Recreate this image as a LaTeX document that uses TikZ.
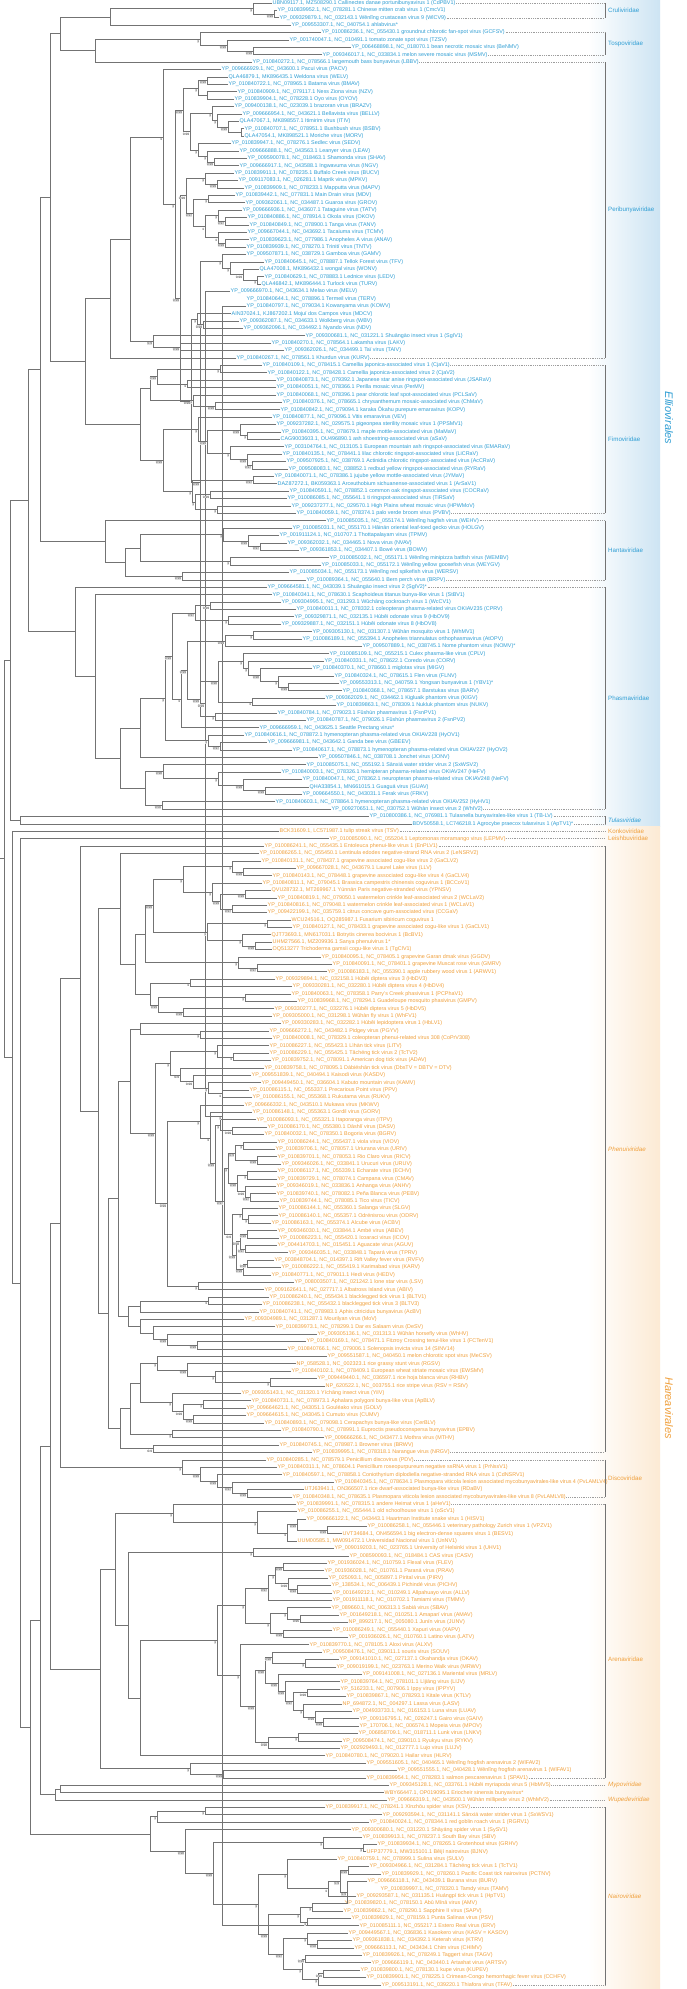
\documentclass[tikz,border=0pt]{standalone}
\usepackage{fontspec}
\setmainfont{Liberation Sans}
\usetikzlibrary{calc}
\definecolor{blu}{RGB}{47,158,212}
\definecolor{ora}{RGB}{240,160,60}
\definecolor{bgb}{RGB}{205,228,243}
\definecolor{bgo}{RGB}{252,234,212}
\definecolor{brc}{RGB}{115,115,115}
\newcounter{leafk}
\def\lc{blu}
\tikzset{
  br/.style={draw=brc,line width=0.6pt},
  lab/.style={anchor=west,inner sep=0.5pt,font=\fontsize{5.4}{6}\selectfont},
  dotl/.style={draw=brc!70,line width=0.4pt,dash pattern=on 0.6pt off 1.2pt},
  bkl/.style={draw=brc,line width=0.7pt},
  fam/.style={anchor=west,inner sep=0pt,font=\fontsize{6.2}{7}\selectfont},
  famit/.style={fam,font=\fontsize{6.2}{7}\selectfont\itshape},
  ord/.style={inner sep=0pt,rotate=-90,font=\fontsize{11}{12}\selectfont\itshape},
  sup/.style={anchor=north east,inner sep=0.3pt,fill=black!12,text=black!65,font=\fontsize{3.2}{3.5}\selectfont,xshift=-0.4pt,yshift=-0.6pt}
}
\newcommand\Lf[3]{%
  \stepcounter{leafk}%
  \pgfmathsetmacro\ly{3+(\theleafk-1)*7.395}%
  \coordinate (#1) at (#2,\ly);
  \node[lab,text=\lc] (t#1) at (#1) {#3};
}
\newcommand\N[3]{%
  \foreach \cc [count=\ci] in {#3}{\ifnum\ci=1 \global\let\nfirst\cc\fi \global\let\nlast\cc}%
  \path let \p1=(\nfirst), \p2=(\nlast) in ({#2pt},{(\y1+\y2)/2}) coordinate (#1);
  \foreach \cc in {#3}{\draw[br] (\cc) -| (#1);}
}
\newcommand\Dt[1]{\draw[dotl] (t#1.east) -- (t#1.east -| bx);}
\begin{document}
\begin{tikzpicture}[x=1pt,y=-1pt]
\useasboundingbox (0,0) rectangle (687,1989);
\fill[white] (0,0) rectangle (687,1989);
\shade[left color=white,right color=bgb] (588,0) rectangle (660,826);
\shade[left color=white,right color=bgo] (588,826) rectangle (660,1989);
\coordinate (bx) at (605,0);
% ---------------- leaves: Elliovirales
\Lf{cdpbv}{272}{UBN09117.1, MZ508290.1 Callinectes danae portunibunyavirus 1 (CdPBV1)}
\Lf{cmcv}{277}{YP\_010839952.1, NC\_078281.1 Chinese mitten crab virus 1 (CmcV1)}
\Lf{wlcv}{279}{YP\_009329879.1, NC\_032143.1 Wēnlǐng crustacean virus 9 (WlCV9)}
\Lf{ahl}{291}{YP\_009553307.1, NC\_040754.1 ahlabvirus*}
\Lf{gcfsv}{321}{YP\_010086236.1, NC\_055430.1 groundnut chlorotic fan-spot virus (GCFSV)}
\Lf{tzsv}{289}{YP\_001740047.1, NC\_010491.1 tomato zonate spot virus (TZSV)}
\Lf{benmv}{351}{YP\_006468898.1, NC\_018070.1 bean necrotic mosaic virus (BeNMV)}
\Lf{msmv}{322}{YP\_009346017.1, NC\_033834.1 melon severe mosaic virus (MSMV)}
\Lf{lbbv}{252}{YP\_010840272.1, NC\_078566.1 largemouth bass bunyavirus (LBBV)}
\Lf{pacv}{221}{YP\_009666929.1, NC\_043600.1 Pacui virus (PACV)}
\Lf{welv}{228}{QLA46879.1, MK896435.1 Weldona virus (WELV)}
\Lf{bmav}{228}{YP\_010840722.1, NC\_078965.1 Batama virus (BMAV)}
\Lf{nzv}{237}{YP\_010840909.1, NC\_079117.1 Ness Ziona virus (NZV)}
\Lf{oyov}{234}{YP\_010839904.1, NC\_078228.1 Oyo virus (OYOV)}
\Lf{brazv}{234}{YP\_009400138.1, NC\_023039.1 brazoran virus (BRAZV)}
\Lf{bellv}{242}{YP\_009666954.1, NC\_043621.1 Bellavista virus (BELLV)}
\Lf{itiv}{239}{QLA47067.1, MK898557.1 Itimirim virus (ITIV)}
\Lf{bsbv}{244}{YP\_010840707.1, NC\_078951.1 Bushbush virus (BSBV)}
\Lf{morv}{244}{QLA47054.1, MK898521.1 Moriche virus (MORV)}
\Lf{sedv}{231}{YP\_010839947.1, NC\_078276.1 Sedlec virus (SEDV)}
\Lf{leav}{239}{YP\_009666888.1, NC\_043563.1 Leanyer virus (LEAV)}
\Lf{shav}{247}{YP\_009590078.1, NC\_018463.1 Shamonda virus (SHAV)}
\Lf{ingv}{239}{YP\_009666917.1, NC\_043588.1 Ingwavuma virus (INGV)}
\Lf{bucv}{234}{YP\_010839911.1, NC\_078235.1 Buffalo Creek virus (BUCV)}
\Lf{mpkv}{238}{YP\_009117083.1, NC\_026281.1 Maprik virus (MPKV)}
\Lf{mapv}{244}{YP\_010839909.1, NC\_078233.1 Mapputta virus (MAPV)}
\Lf{mdv}{235}{YP\_010839442.1, NC\_077831.1 Main Drain virus (MDV)}
\Lf{grov}{245}{YP\_009362061.1, NC\_034487.1 Guaroa virus (GROV)}
\Lf{tatv}{242}{YP\_009666936.1, NC\_043607.1 Tataguine virus (TATV)}
\Lf{okov}{247}{YP\_010840886.1, NC\_078914.1 Okola virus (OKOV)}
\Lf{tanv}{249}{YP\_010840849.1, NC\_078900.1 Tanga virus (TANV)}
\Lf{tcmv}{247}{YP\_009667044.1, NC\_043692.1 Tacaiuma virus (TCMV)}
\Lf{anav}{249}{YP\_010839623.1, NC\_077986.1 Anopheles A virus (ANAV)}
\Lf{tntv}{246}{YP\_010839939.1, NC\_078270.1 Trinití virus (TNTV)}
\Lf{gamv}{246}{YP\_009507871.1, NC\_038729.1 Gamboa virus (GAMV)}
\Lf{tfv}{264}{YP\_010840645.1, NC\_078887.1 Tellok Forest virus (TFV)}
\Lf{wonv}{259}{QLA47008.1, MK896432.1 wongal virus (WONV)}
\Lf{ledv}{264}{YP\_010840629.1, NC\_078883.1 Lednice virus (LEDV)}
\Lf{turv}{261}{QLA46842.1, MK896444.1 Turlock virus (TURV)}
\Lf{melv}{230}{YP\_009666970.1, NC\_043634.1 Melao virus (MELV)}
\Lf{terv}{246}{YP\_010840644.1, NC\_078896.1 Termeil virus (TERV)}
\Lf{kowv}{246}{YP\_010840797.1, NC\_079034.1 Kowanyama virus (KOWV)}
\Lf{mdcv}{231}{AIN37024.1, KJ867202.1 Mojuí dos Campos virus (MDCV)}
\Lf{wbv}{239}{YP\_009362087.1, NC\_034633.1 Wolkberg virus (WBV)}
\Lf{ndv}{243}{YP\_009362096.1, NC\_034492.1 Nyando virus (NDV)}
\Lf{sgiv}{305}{YP\_009300681.1, NC\_031221.1 Shuāngào insect virus 1 (SgIV1)}
\Lf{lakv}{271}{YP\_010840270.1, NC\_078564.1 Lakamha virus (LAKV)}
\Lf{taiv}{284}{YP\_009362026.1, NC\_034499.1 Taï virus (TAIV)}
\Lf{kurv}{236}{YP\_010840267.1, NC\_078561.1 Khurdun virus (KURV)}
\Lf{cjav1}{262}{YP\_010840109.1, NC\_078415.1 Camellia japonica-associated virus 1 (CjaV1)}
\Lf{cjav2}{267}{YP\_010840122.1, NC\_078428.1 Camellia japonica-associated virus 2 (CjaV2)}
\Lf{jsarav}{276}{YP\_010840873.1, NC\_079392.1 Japanese star anise ringspot-associated virus (JSARaV)}
\Lf{permv}{276}{YP\_010840051.1, NC\_078366.1 Perilla mosaic virus (PerMV)}
\Lf{pclsav}{276}{YP\_010840068.1, NC\_078396.1 pear chlorotic leaf spot-associated virus (PCLSaV)}
\Lf{chmav}{282}{YP\_010840376.1, NC\_078665.1 chrysanthemum mosaic-associated virus (ChMaV)}
\Lf{kopv}{280}{YP\_010840842.1, NC\_079094.1 karaka Ōkahu purepure emaravirus (KOPV)}
\Lf{vev}{272}{YP\_010840877.1, NC\_079096.1 Vitis emaravirus (VEV)}
\Lf{ppsmv}{276}{YP\_009237282.1, NC\_029575.1 pigeonpea sterility mosaic virus 1 (PPSMV1)}
\Lf{mamav}{281}{YP\_010840395.1, NC\_078679.1 maple mottle-associated virus (MaMaV)}
\Lf{asav}{280}{CAG9003603.1, OU496890.1 ash shoestring-associated virus (aSaV)}
\Lf{emarav}{284}{YP\_003104764.1, NC\_013105.1 European mountain ash ringspot-associated virus (EMARaV)}
\Lf{licrav}{282}{YP\_010840135.1, NC\_078441.1 lilac chlorotic ringspot-associated virus (LiCRaV)}
\Lf{accrav}{286}{YP\_009507925.1, NC\_038769.1 Actinidia chlorotic ringspot-associated virus (AcCRaV)}
\Lf{ryrav}{288}{YP\_009508083.1, NC\_038852.1 redbud yellow ringspot-associated virus (RYRaV)}
\Lf{jymav}{274}{YP\_010840071.1, NC\_078386.1 jujube yellow mottle-associated virus (JYMaV)}
\Lf{arsav}{277}{DAZ87272.1, BK059363.1 Arceuthobium sichuanense-associated virus 1 (ArSaV1)}
\Lf{cocrav}{289}{YP\_010840591.1, NC\_078852.1 common oak ringspot-associated virus (COCRaV)}
\Lf{tirsav}{287}{YP\_010086085.1, NC\_055641.1 ti ringspot-associated virus (TiRSaV)}
\Lf{hpwmov}{291}{YP\_009237277.1, NC\_029570.1 High Plains wheat mosaic virus (HPWMoV)}
\Lf{pvbv}{296}{YP\_010840059.1, NC\_078374.1 palo verde broom virus (PVBV)}
\Lf{wehv}{326}{YP\_010085035.1, NC\_055174.1 Wēnlǐng hagfish virus (WEHV)}
\Lf{holgv}{292}{YP\_010085031.1, NC\_055170.1 Hǎinán oriental leaf-toed gecko virus (HOLGV)}
\Lf{tpmv}{279}{YP\_001911124.1, NC\_010707.1 Thottapalayam virus (TPMV)}
\Lf{nvav}{287}{YP\_009362032.1, NC\_034465.1 Nova virus (NVAV)}
\Lf{bowv}{299}{YP\_009361853.1, NC\_034407.1 Bowé virus (BOWV)}
\Lf{wembv}{329}{YP\_010085032.1, NC\_055171.1 Wēnlǐng minipizza batfish virus (WEMBV)}
\Lf{weygv}{321}{YP\_010085033.1, NC\_055172.1 Wēnlǐng yellow goosefish virus (WEYGV)}
\Lf{wersv}{289}{YP\_010085034.1, NC\_055173.1 Wēnlǐng red spikefish virus (WERSV)}
\Lf{brpv}{306}{YP\_010089364.1, NC\_055640.1 Bern perch virus (BRPV)}
\Lf{sgiv2}{267}{YP\_009664581.1, NC\_043039.1 Shuāngào insect virus 2 (SgIV2)*}
\Lf{stbv}{272}{YP\_010840341.1, NC\_078630.1 Scaphoideus titanus bunya-like virus 1 (StBV1)}
\Lf{wccv}{281}{YP\_009304995.1, NC\_031293.1 Wǔchāng cockroach virus 1 (WcCV1)}
\Lf{cprv}{296}{YP\_010840011.1, NC\_078332.1 coleopteran phasma-related virus OKIAV235 (CPRV)}
\Lf{hbov9}{294}{YP\_009329871.1, NC\_032135.1 Húběi odonate virus 9 (HbOV9)}
\Lf{hbov8}{281}{YP\_009329887.1, NC\_032151.1 Húběi odonate virus 8 (HbOV8)}
\Lf{whmv1}{312}{YP\_009305130.1, NC\_031307.1 Wǔhàn mosquito virus 1 (WhMV1)}
\Lf{atopv}{302}{YP\_010086189.1, NC\_055394.1 Anopheles triannulatus orthophasmavirus (AtOPV)}
\Lf{nomv}{362}{YP\_009507889.1, NC\_038745.1 Nome phantom virus (NOMV)*}
\Lf{cplv}{329}{YP\_010085109.1, NC\_055215.1 Culex phasma-like virus (CPLV)}
\Lf{corv}{324}{YP\_010840331.1, NC\_078622.1 Coredo virus (CORV)}
\Lf{migv}{312}{YP\_010840370.1, NC\_078660.1 miglotas virus (MIGV)}
\Lf{flnv}{334}{YP\_010840324.1, NC\_078615.1 Flen virus (FLNV)}
\Lf{ybv}{339}{YP\_009553313.1, NC\_040759.1 Yongsan bunyavirus 1 (YBV1)*}
\Lf{barv}{342}{YP\_010840368.1, NC\_078657.1 Barstukas virus (BARV)}
\Lf{kigv}{325}{YP\_009362029.1, NC\_034462.1 Kigluaik phantom virus (KIGV)}
\Lf{nukv}{336}{YP\_010839863.1, NC\_078309.1 Nukluk phantom virus (NUKV)}
\Lf{fsnpv1}{277}{YP\_010840784.1, NC\_079023.1 Fǔshùn phasmavirus 1 (FsnPV1)}
\Lf{fsnpv2}{306}{YP\_010840787.1, NC\_079026.1 Fǔshùn phasmavirus 2 (FsnPV2)}
\Lf{spv}{259}{YP\_009666959.1, NC\_043625.1 Seattle Prectang virus*}
\Lf{hyov1}{244}{YP\_010840616.1, NC\_078872.1 hymenopteran phasma-related virus OKIAV228 (HyOV1)}
\Lf{gbeev}{267}{YP\_009666981.1, NC\_043642.1 Ganda bee virus (GBEEV)}
\Lf{hyov2}{292}{YP\_010840617.1, NC\_078873.1 hymenopteran phasma-related virus OKIAV227 (HyOV2)}
\Lf{jonv}{318}{YP\_009507846.1, NC\_038708.1 Jonchet virus (JONV)}
\Lf{sxwsv2}{306}{YP\_010085075.1, NC\_055192.1 Sānxiá water strider virus 2 (SxWSV2)}
\Lf{hefv}{281}{YP\_010840003.1, NC\_078326.1 hemipteran phasma-related virus OKIAV247 (HeFV)}
\Lf{nefv}{302}{YP\_010840047.1, NC\_078362.1 neuropteran phasma-related virus OKIAV248 (NeFV)}
\Lf{guav}{309}{QHA33854.1, MN661015.1 Guaguá virus (GUAV)}
\Lf{frkv}{302}{YP\_009664550.1, NC\_043031.1 Ferak virus (FRKV)}
\Lf{hyhv}{275}{YP\_010840603.1, NC\_078864.1 hymenopteran phasma-related virus OKIAV252 (HyHV1)}
\Lf{whiv2}{331}{YP\_009270651.1, NC\_030752.1 Wǔhàn insect virus 2 (WhIV2)}
\Lf{tblv}{369}{YP\_010800386.1, NC\_076981.1 Tulasnella bunyavirales-like virus 1 (TB-LV)}
\Lf{aptv}{412}{BDV50558.1, LC746218.1 Agrocybe praecox tulasvirus 1 (ApTV1)*}
% ---------------- leaves: Hareavirales
\def\lc{ora}
\Lf{tusv}{279}{BCK31609.1, LC571987.1 tulip streak virus (TSV)}
\Lf{lepmv}{329}{YP\_010085090.1, NC\_055204.1 Leptomonas moramango virus (LEPMV)}
\Lf{enplv}{264}{YP\_010086241.1, NC\_055435.1 Entoleuca phenui-like virus 1 (EnPLV1)}
\Lf{lensrv}{259}{YP\_010086265.1, NC\_055450.1 Lentinula edodes negative-strand RNA virus 2 (LeNSRV2)}
\Lf{gaclv2}{261}{YP\_010840131.1, NC\_078437.1 grapevine associated cogu-like virus 2 (GaCLV2)}
\Lf{llv}{296}{YP\_009667028.1, NC\_043679.1 Laurel Lake virus (LLV)}
\Lf{gaclv4}{272}{YP\_010840143.1, NC\_078448.1 grapevine associated cogu-like virus 4 (GaCLV4)}
\Lf{bccov}{262}{YP\_010840811.1, NC\_079045.1 Brassica campestris chinensis coguvirus 1 (BCCoV1)}
\Lf{ypnsv}{271}{QVU28732.1, MT269967.1 Yúnnán Paris negative-stranded virus (YPNSV)}
\Lf{wclav2}{277}{YP\_010840819.1, NC\_079050.1 watermelon crinkle leaf-associated virus 2 (WCLaV2)}
\Lf{wclav1}{267}{YP\_010840816.1, NC\_079048.1 watermelon crinkle leaf-associated virus 1 (WCLaV1)}
\Lf{ccgav}{267}{YP\_009422199.1, NC\_035759.1 citrus concave gum-associated virus (CCGaV)}
\Lf{fscv}{291}{WCU24516.1, OQ285987.1 Fusarium sibiricum coguvirus 1}
\Lf{gaclv1}{292}{YP\_010840127.1, NC\_078433.1 grapevine associated cogu-like virus 1 (GaCLV1)}
\Lf{bcbv}{271}{QJT73693.1, MN617031.1 Botrytis cinerea bocivirus 1 (BcBV1)}
\Lf{sapv1}{272}{UHM27566.1, MZ209936.1 Sanya phenuivirus 1*}
\Lf{tgclv}{272}{OQ513277 Trichoderma gamsii cogu-like virus 1 (TgClV1)}
\Lf{ggdv}{321}{YP\_010840095.1, NC\_078405.1 grapevine Garan dmak virus (GGDV)}
\Lf{gmrv}{332}{YP\_010840091.1, NC\_078401.1 grapevine Muscat rose virus (GMRV)}
\Lf{arwv}{327}{YP\_010086183.1, NC\_055390.1 apple rubbery wood virus 1 (ARWV1)}
\Lf{hbdv3}{275}{YP\_009329894.1, NC\_032158.1 Húběi diptera virus 3 (HbDV3)}
\Lf{hbdv4}{292}{YP\_009330281.1, NC\_032280.1 Húběi diptera virus 4 (HbDV4)}
\Lf{pcphav}{291}{YP\_010840063.1, NC\_078358.1 Parry's Creek phasivirus 1 (PCPhaV1)}
\Lf{gmpv}{297}{YP\_010839968.1, NC\_078294.1 Guadeloupe mosquito phasivirus (GMPV)}
\Lf{hbdv5}{274}{YP\_009330277.1, NC\_032276.1 Húběi diptera virus 5 (HbDV5)}
\Lf{whfv}{272}{YP\_009305000.1, NC\_031298.1 Wǔhàn fly virus 1 (WhFV1)}
\Lf{hblv}{281}{YP\_009330283.1, NC\_032282.1 Húběi lepidoptera virus 1 (HbLV1)}
\Lf{pgyv}{269}{YP\_009666272.1, NC\_043482.1 Pidgey virus (PGYV)}
\Lf{coprv}{272}{YP\_010840008.1, NC\_078329.1 coleopteran phenui-related virus 308 (CoPrV308)}
\Lf{litv}{269}{YP\_010086227.1, NC\_055423.1 Lìhàn tick virus (LITV)}
\Lf{tctv2}{269}{YP\_010086229.1, NC\_055425.1 Tǎchéng tick virus 2 (TcTV2)}
\Lf{adav}{271}{YP\_010839752.1, NC\_078091.1 American dog tick virus (ADAV)}
\Lf{dbstv}{264}{YP\_010839758.1, NC\_078095.1 Dàbiéshān tick virus (DbsTV = DBTV = DTV)}
\Lf{kasdv}{251}{YP\_009551839.1, NC\_040494.1 Kaisodi virus (KASDV)}
\Lf{kamv}{261}{YP\_009449450.1, NC\_036604.1 Kabuto mountain virus (KAMV)}
\Lf{ppv}{249}{YP\_010086115.1, NC\_055337.1 Precarious Point virus (PPV)}
\Lf{rukv}{252}{YP\_010086155.1, NC\_055368.1 Rukutama virus (RUKV)}
\Lf{mkwv}{244}{YP\_009666332.1, NC\_043510.1 Mukawa virus (MKWV)}
\Lf{gorv}{252}{YP\_010086148.1, NC\_055363.1 Gordil virus (GORV)}
\Lf{itpv}{256}{YP\_010086093.1, NC\_055321.1 Itaporanga virus (ITPV)}
\Lf{dasv}{267}{YP\_010086170.1, NC\_055380.1 Dāshlī virus (DASV)}
\Lf{bgrv}{264}{YP\_010840032.1, NC\_078350.1 Bogoria virus (BGRV)}
\Lf{viov}{277}{YP\_010086244.1, NC\_055437.1 viola virus (VIOV)}
\Lf{uriv}{275}{YP\_010839706.1, NC\_078057.1 Uriurana virus (URIV)}
\Lf{ricv}{277}{YP\_010839701.1, NC\_078053.1 Rio Claro virus (RICV)}
\Lf{uruv}{281}{YP\_009346026.1, NC\_033841.1 Urucuri virus (URUV)}
\Lf{echv}{277}{YP\_010086117.1, NC\_055339.1 Echarate virus (ECHV)}
\Lf{cmav}{277}{YP\_010839729.1, NC\_078074.1 Campana virus (CMAV)}
\Lf{anhv}{276}{YP\_009346019.1, NC\_033836.1 Anhanga virus (ANHV)}
\Lf{pebv}{276}{YP\_010839740.1, NC\_078082.1 Peña Blanca virus (PEBV)}
\Lf{ticv}{279}{YP\_010839744.1, NC\_078085.1 Tico virus (TICV)}
\Lf{slgv}{278}{YP\_010086144.1, NC\_055360.1 Salanga virus (SLGV)}
\Lf{odrv}{278}{YP\_010086140.1, NC\_055357.1 Odrénisrou virus (ODRV)}
\Lf{acbv}{271}{YP\_010086163.1, NC\_055374.1 Alcube virus (ACBV)}
\Lf{abev}{277}{YP\_009346030.1, NC\_033844.1 Ambé virus (ABEV)}
\Lf{icov}{279}{YP\_010086223.1, NC\_055420.1 Icoaraci virus (ICOV)}
\Lf{aguv}{277}{YP\_004414703.1, NC\_015451.1 Aguacate virus (AGUV)}
\Lf{tprv}{288}{YP\_009346035.1, NC\_033848.1 Tapará virus (TPRV)}
\Lf{rvfv}{274}{YP\_003848704.1, NC\_014397.1 Rift Valley fever virus (RVFV)}
\Lf{karv}{281}{YP\_010086222.1, NC\_055419.1 Karimabad virus (KARV)}
\Lf{hedv}{271}{YP\_010840771.1, NC\_079011.1 Hedi virus (HEDV)}
\Lf{lsv}{294}{YP\_008003507.1, NC\_021242.1 lone star virus (LSV)}
\Lf{abiv}{264}{YP\_009162641.1, NC\_027717.1 Albatross Island virus (ABIV)}
\Lf{bltv1}{269}{YP\_010086240.1, NC\_055434.1 blacklegged tick virus 1 (BLTV1)}
\Lf{bltv3}{262}{YP\_010086238.1, NC\_055432.1 blacklegged tick virus 3 (BLTV3)}
\Lf{acbv2}{259}{YP\_010840741.1, NC\_078983.1 Aphis citricidus bunyavirus (AcBV)}
\Lf{mov}{244}{YP\_009304989.1, NC\_031287.1 Mourilyan virus (MoV)}
\Lf{desv}{275}{YP\_010839973.1, NC\_078299.1 Dar es Salaam virus (DeSV)}
\Lf{whhv}{317}{YP\_009305136.1, NC\_031313.1 Wǔhàn horsefly virus (WhHV)}
\Lf{fctenv}{306}{YP\_010840169.1, NC\_078471.1 Fitzroy Crossing tenui-like virus 1 (FCTenV1)}
\Lf{sinv}{287}{YP\_010840766.1, NC\_079006.1 Solenopsis invicta virus 14 (SINV14)}
\Lf{mecsv}{327}{YP\_009551587.1, NC\_040450.1 melon chlorotic spot virus (MeCSV)}
\Lf{rgsv}{296}{NP\_058528.1, NC\_002323.1 rice grassy stunt virus (RGSV)}
\Lf{ewsmv}{291}{YP\_010840102.1, NC\_078409.1 European wheat striate mosaic virus (EWSMV)}
\Lf{rhbv}{317}{YP\_009449440.1, NC\_036597.1 rice hoja blanca virus (RHBV)}
\Lf{rsv}{325}{NP\_620522.1, NC\_003755.1 rice stripe virus (RSV = RStV)}
\Lf{yiiv}{241}{YP\_009305143.1, NC\_031320.1 Yíchāng insect virus (YiIV)}
\Lf{apblv}{251}{YP\_010840731.1, NC\_078973.1 Aphalara polygoni bunya-like virus (ApBLV)}
\Lf{golv}{246}{YP\_009664621.1, NC\_043051.1 Gouléako virus (GOLV)}
\Lf{cumv}{246}{YP\_009664615.1, NC\_043045.1 Cumuto virus (CUMV)}
\Lf{cerblv}{264}{YP\_010840893.1, NC\_079098.1 Cerapachys bunya-like virus (CerBLV)}
\Lf{epbv}{281}{YP\_010840790.1, NC\_078991.1 Euproctis pseudoconspersa bunyavirus (EPBV)}
\Lf{mthv}{324}{YP\_009666266.1, NC\_043477.1 Mothra virus (MTHV)}
\Lf{brwv}{279}{YP\_010840745.1, NC\_078987.1 Browner virus (BRWV)}
\Lf{nrgv}{312}{YP\_010839995.1, NC\_078318.1 Narangue virus (NRGV)}
\Lf{pdv}{266}{YP\_010840285.1, NC\_078579.1 Penicillium discovirus (PDV)}
\Lf{prnssv}{277}{YP\_010840311.1, NC\_078604.1 Penicillium roseopurpureum negative ssRNA virus 1 (PrNssV1)}
\Lf{cdnsrv}{282}{YP\_010840597.1, NC\_078858.1 Coniothyrium diplodiella negative-stranded RNA virus 1 (CdNSRV1)}
\Lf{pvlamlv4}{334}{YP\_010840345.1, NC\_078634.1 Plasmopara viticola lesion associated mycobunyavirales-like virus 4 (PvLAMLV4)}
\Lf{rdabv}{304}{UTJ63941.1, ON366507.1 rice dwarf-associated bunya-like virus (RDaBV)}
\Lf{pvlamlv8}{292}{YP\_010840348.1, NC\_078635.1 Plasmopara viticola lesion associated mycobunyavirales-like virus 8 (PvLAMLV8)}
\Lf{ahev}{296}{YP\_010839991.1, NC\_078315.1 andere Heimat virus 1 (aHeV1)}
\Lf{oscv}{297}{YP\_010086255.1, NC\_055444.1 old schoolhouse virus 1 (oScV1)}
\Lf{hisv}{306}{YP\_009666122.1, NC\_043443.1 Haartman Institute snake virus 1 (HISV1)}
\Lf{vpzv}{367}{YP\_010086258.1, NC\_055446.1 veterinary pathology Zurich virus 1 (VPZV1)}
\Lf{besv}{342}{UVT34684.1, ON456594.1 big electron-dense squares virus 1 (BESV1)}
\Lf{unnv}{297}{UUM00585.1, MW091472.1 Universidad Nacional virus 1 (UnNV1)}
\Lf{uhv}{334}{YP\_009019203.1, NC\_023765.1 University of Helsinki virus 1 (UHV1)}
\Lf{casv}{349}{YP\_008590093.1, NC\_018484.1 CAS virus (CASV)}
\Lf{flev}{327}{YP\_001936024.1, NC\_010759.1 Flexal virus (FLEV)}
\Lf{prav}{324}{YP\_001936028.1, NC\_010761.1 Paraná virus (PRAV)}
\Lf{pirv}{328}{YP\_025093.1, NC\_005897.1 Pirital virus (PIRV)}
\Lf{pichv}{331}{YP\_138534.1, NC\_006439.1 Pichindé virus (PICHV)}
\Lf{allv}{332}{YP\_001649212.1, NC\_010249.1 Allpahuayo virus (ALLV)}
\Lf{tmmv}{332}{YP\_001911118.1, NC\_010702.1 Tamiami virus (TMMV)}
\Lf{sbav}{331}{YP\_089660.1, NC\_006313.1 Sabiá virus (SBAV)}
\Lf{amav}{339}{YP\_001649218.1, NC\_010251.1 Amaparí virus (AMAV)}
\Lf{junv}{348}{NP\_899217.1, NC\_005080.1 Junín virus (JUNV)}
\Lf{xapv}{332}{YP\_010086249.1, NC\_055440.1 Xapuri virus (XAPV)}
\Lf{latv}{348}{YP\_001936026.1, NC\_010760.1 Latino virus (LATV)}
\Lf{alxv}{309}{YP\_010839770.1, NC\_078105.1 Aloxi virus (ALXV)}
\Lf{souv}{322}{YP\_009508476.1, NC\_039011.1 souris virus (SOUV)}
\Lf{okav}{339}{YP\_009141010.1, NC\_027137.1 Okahandja virus (OKAV)}
\Lf{mrwv}{336}{YP\_009019199.1, NC\_023763.1 Merino Walk virus (MRWV)}
\Lf{mrlv}{362}{YP\_009141008.1, NC\_027136.1 Mariental virus (MRLV)}
\Lf{lijv}{340}{YP\_010839764.1, NC\_078101.1 Lìjiāng virus (LIJV)}
\Lf{ippyv}{340}{YP\_516233.1, NC\_007906.1 Ippy virus (IPPYV)}
\Lf{ktlv}{346}{YP\_010839867.1, NC\_078293.1 Kitale virus (KTLV)}
\Lf{lasv}{342}{NP\_694872.1, NC\_004297.1 Lassa virus (LASV)}
\Lf{luav}{352}{YP\_004933733.1, NC\_016153.1 Luna virus (LUAV)}
\Lf{gaiv}{359}{YP\_009116795.1, NC\_026247.1 Gairo virus (GAIV)}
\Lf{mpov}{359}{YP\_170706.1, NC\_006574.1 Mopeia virus (MPOV)}
\Lf{lnkv}{358}{YP\_006858709.1, NC\_018711.1 Lunk virus (LNKV)}
\Lf{rykv}{342}{YP\_009508474.1, NC\_039010.1 Ryukyu virus (RYKV)}
\Lf{lujv}{340}{YP\_002929493.1, NC\_012777.1 Lujo virus (LUJV)}
\Lf{hlrv}{325}{YP\_010840780.1, NC\_079020.1 Hailar virus (HLRV)}
\Lf{wlfav2}{366}{YP\_009551605.1, NC\_040465.1 Wēnlǐng frogfish arenavirus 2 (WlFAV2)}
\Lf{wlfav1}{397}{YP\_009551555.1, NC\_040428.1 Wēnlǐng frogfish arenavirus 1 (WlFAV1)}
\Lf{spav}{366}{YP\_010839954.1, NC\_078283.1 salmon pescarenavirus 1 (SPAV1)}
\Lf{hbmv5}{389}{YP\_009345128.1, NC\_033761.1 Húběi myriapoda virus 5 (HbMV5)}
\Lf{esbv}{384}{WBY66447.1, OP019095.1 Eriocheir sinensis bunyavirus*}
\Lf{whmv2}{387}{YP\_009666319.1, NC\_043500.1 Wǔhàn millipede virus 2 (WhMV2)}
\Lf{xsv}{325}{YP\_010839917.1, NC\_078241.1 Xīnzhōu spider virus (XSV)}
\Lf{sxwsv1}{382}{YP\_009293594.1, NC\_031141.1 Sānxiá water strider virus 1 (SxWSV1)}
\Lf{rgrv}{369}{YP\_010840024.1, NC\_078344.1 red goblin roach virus 1 (RGRV1)}
\Lf{sysv}{351}{YP\_009300680.1, NC\_031220.1 Shāyáng spider virus 1 (SySV1)}
\Lf{sbv}{362}{YP\_010839913.1, NC\_078237.1 South Bay virus (SBV)}
\Lf{grhv}{377}{YP\_010839934.1, NC\_078265.1 Grotenhout virus (GRHV)}
\Lf{bjnv}{366}{UFP37779.1, MW315101.1 Běijí nairovirus (BJNV)}
\Lf{sulv}{337}{YP\_010840759.1, NC\_078999.1 Sulina virus (SULV)}
\Lf{tctv1}{369}{YP\_009304966.1, NC\_031284.1 Tǎchéng tick virus 1 (TcTV1)}
\Lf{pctnv}{381}{YP\_010839929.1, NC\_078260.1 Pacific Coast tick nairovirus (PCTNV)}
\Lf{burv}{367}{YP\_009666118.1, NC\_043439.1 Burana virus (BURV)}
\Lf{tamv}{380}{YP\_010839997.1, NC\_078320.1 Tamdy virus (TAMV)}
\Lf{hptv}{356}{YP\_009293587.1, NC\_031135.1 Huángpí tick virus 1 (HpTV1)}
\Lf{amv}{344}{YP\_010839820.1, NC\_078150.1 Abū Mīnā virus (AMV)}
\Lf{sapv}{343}{YP\_010839862.1, NC\_078290.1 Sapphire II virus (SAPV)}
\Lf{psv}{351}{YP\_010839829.1, NC\_078159.1 Punta Salinas virus (PSV)}
\Lf{erv}{359}{YP\_010085111.1, NC\_055217.1 Estero Real virus (ERV)}
\Lf{kasv}{348}{YP\_009449567.1, NC\_036836.1 Kasokero virus (KASV = KASOV)}
\Lf{ktrv}{352}{YP\_009361838.1, NC\_034392.1 Keterah virus (KTRV)}
\Lf{chimv}{354}{YP\_009666113.1, NC\_043434.1 Chim virus (CHIMV)}
\Lf{tagv}{362}{YP\_010839926.1, NC\_078249.1 Taggert virus (TAGV)}
\Lf{artsv}{371}{YP\_009666119.1, NC\_043440.1 Artashat virus (ARTSV)}
\Lf{kupev}{360}{YP\_010839800.1, NC\_078130.1 kupe virus (KUPEV)}
\Lf{cchfv}{366}{YP\_010839901.1, NC\_078225.1 Crimean-Congo hemorrhagic fever virus (CCHFV)}
\Lf{tfav}{381}{YP\_009513191.1, NC\_039220.1 Thiafora virus (TFAV)}
% ---------------- internal nodes: Elliovirales
\N{c2}{274}{cmcv,wlcv}
\N{c1}{253}{cdpbv,c2}
\N{t3}{253}{benmv,msmv}
\N{t2}{227}{tzsv,t3}
\N{t1}{200}{gcfsv,t2}
\N{pA}{241}{bsbv,morv}
\N{pB}{228}{itiv,pA}
\N{pC}{217}{bellv,pB}
\N{pD}{212}{brazv,pC}
\N{pE}{207}{welv,bmav}
\N{pF}{207}{nzv,oyov}
\N{pG}{198}{pE,pF}
\N{pH}{214}{shav,ingv}
\N{pI}{207}{leav,pH}
\N{pJ}{198}{sedv,pI}
\N{pK}{190}{pD,pJ}
\N{pL}{183}{pG,pK}
\N{pM}{217}{mpkv,mapv}
\N{pN}{205}{bucv,pM}
\N{pO}{208}{mdv,grov}
\N{pP}{225}{okov,tanv}
\N{pQ}{218}{tatv,pP}
\N{pR}{225}{anav,tntv}
\N{pS}{218}{tcmv,pR}
\N{pT}{205}{pQ,pS}
\N{pU}{193}{pO,pT}
\N{pV}{186}{pN,pU}
\N{pW}{257}{ledv,turv}
\N{pX}{243}{wonv,pW}
\N{pY}{230}{tfv,pX}
\N{pZ}{222}{gamv,pY}
\N{qA}{222}{terv,kowv}
\N{qB}{205}{melv,qA}
\N{qC}{200}{pZ,qB}
\N{qD}{203}{wbv,ndv}
\N{qE}{197}{mdcv,qD}
\N{qF}{191}{qC,qE}
\N{qG}{180}{pV,qF}
\N{qH}{175}{pL,qG}
\N{qI}{163}{pacv,qH}
\N{sA}{180}{lakv,taiv}
\N{sB}{153}{sgiv,sA}
\N{fA}{220}{cjav1,cjav2}
\N{fB}{187}{jsarav,permv}
\N{fC}{157}{fA,fB}
\N{fD}{215}{chmav,kopv}
\N{fE}{193}{pclsav,fD}
\N{fF}{150}{fC,fE}
\N{f1}{247}{mamav,asav}
\N{f2}{240}{ppsmv,f1}
\N{f3}{252}{accrav,ryrav}
\N{f4}{247}{licrav,f3}
\N{f5}{230}{emarav,f4}
\N{f6}{207}{f2,f5}
\N{f7}{198}{vev,f6}
\N{fG}{253}{jymav,arsav}
\N{fH}{210}{cocrav,tirsav}
\N{fI}{217}{hpwmov,pvbv}
\N{fJ}{195}{fH,fI}
\N{fK}{192}{fG,fJ}
\N{f8}{163}{f7,fK}
\N{fN}{140}{fF,f8}
\N{h1}{260}{nvav,bowv}
\N{h2}{248}{tpmv,h1}
\N{h3}{223}{holgv,h2}
\N{h4}{230}{wembv,weygv}
\N{h5}{182}{wersv,brpv}
\N{h6}{140}{h3,h4}
\N{h7}{125}{h6,h5}
\N{h8}{105}{wehv,h7}
\N{ph1}{210}{wccv,cprv}
\N{ph2}{228}{hbov9,hbov8}
\N{ph3}{195}{ph1,ph2}
\N{ph4}{253}{whmv1,atopv}
\N{ph5}{225}{ph4,nomv}
\N{ph6}{288}{ybv,barv}
\N{ph7}{278}{flnv,ph6}
\N{ph8}{260}{migv,ph7}
\N{ph9}{248}{corv,ph8}
\N{ph10}{243}{cplv,ph9}
\N{ph11}{252}{kigv,nukv}
\N{ph12}{218}{ph10,ph11}
\N{ph13}{215}{fsnpv1,fsnpv2}
\N{ph14}{200}{ph12,ph13}
\N{ph15}{187}{ph5,ph14}
\N{ph16}{181}{ph15,spv}
\N{ph17}{172}{ph3,ph16}
\N{ph18}{220}{gbeev,hyov2}
\N{ph19}{208}{hyov1,ph18}
\N{ph20}{165}{ph17,ph19}
\N{ph21}{265}{guav,frkv}
\N{ph22}{243}{nefv,ph21}
\N{ph23}{218}{hefv,ph22}
\N{ph24}{163}{sxwsv2,ph23}
\N{ph25}{162}{hyhv,whiv2}
\N{phA}{140}{ph20,jonv}
\N{phB}{145}{ph24,ph25}
\N{phC}{120}{phA,phB}
\N{phD}{95}{stbv,phC}
\N{phE}{75}{sgiv2,phD}
\N{e0}{110}{c1,ahl}
\N{e1}{95}{t1,lbbv}
\N{e2}{130}{qI,sB}
\N{e3}{110}{e2,kurv}
\N{e4}{85}{e3,fN}
\N{e5}{60}{e0,e1}
\N{e6}{50}{e5,e4}
\N{e7}{40}{e6,h8}
\N{e8}{28}{e7,phE}
\N{tu}{20}{tblv,aptv}
\N{e9}{10}{e8,tu}
% ---------------- internal nodes: Hareavirales
\N{g1}{243}{llv,gaclv4}
\N{g2}{232}{gaclv2,g1}
\N{g3}{245}{ypnsv,wclav2}
\N{g4}{232}{wclav1,ccgav}
\N{g5}{220}{g3,g4}
\N{g6}{212}{bccov,g5}
\N{g7}{183}{g2,g6}
\N{g8}{267}{fscv,gaclv1}
\N{g9}{255}{sapv1,tgclv}
\N{g10}{242}{bcbv,g9}
\N{g11}{207}{g8,g10}
\N{g12}{153}{g7,g11}
\N{g13}{257}{gmrv,arwv}
\N{g14}{238}{ggdv,g13}
\N{g15}{145}{g12,g14}
\N{g16}{190}{hbdv3,hbdv4}
\N{g17}{245}{pcphav,gmpv}
\N{g18}{183}{hbdv5,whfv}
\N{g19}{158}{g17,g18}
\N{g20}{150}{g16,g19}
\N{g21}{200}{pgyv,coprv}
\N{g22}{233}{tctv2,adav}
\N{g23}{217}{litv,g22}
\N{g24}{222}{ppv,rukv}
\N{g25}{208}{kamv,g24}
\N{g26}{193}{kasdv,g25}
\N{g27}{180}{dbstv,g26}
\N{g28}{170}{g23,g27}
\N{p1}{232}{dasv,bgrv}
\N{p2}{220}{itpv,p1}
\N{p4}{243}{viov,uriv}
\N{p5}{257}{ricv,uruv}
\N{p6}{235}{p4,p5}
\N{p7}{247}{echv,cmav}
\N{p8}{250}{pebv,ticv}
\N{p9}{245}{anhv,p8}
\N{p10}{237}{p7,p9}
\N{p11}{228}{p6,p10}
\N{p12}{248}{odrv,acbv}
\N{p13}{242}{slgv,p12}
\N{p14}{247}{abev,icov}
\N{p15}{245}{aguv,tprv}
\N{p16}{240}{p14,p15}
\N{p17}{247}{rvfv,karv}
\N{p18}{243}{p17,hedv}
\N{p19}{236}{p16,p18}
\N{p20}{232}{p13,p19}
\N{p21}{224}{p11,p20}
\N{p22}{215}{p2,p21}
\N{p23}{210}{gorv,p22}
\N{p24}{200}{mkwv,p23}
\N{p25}{198}{lsv,abiv}
\N{p26}{167}{p24,p25}
\N{p27}{155}{g28,p26}
\N{b1}{208}{bltv1,bltv3}
\N{w1}{197}{fctenv,sinv}
\N{w2}{167}{whhv,w1}
\N{w3}{153}{desv,w2}
\N{r1}{270}{rhbv,rsv}
\N{r2}{215}{ewsmv,r1}
\N{r3}{187}{rgsv,r2}
\N{r4}{157}{mecsv,r3}
\N{y1}{203}{apblv,golv}
\N{y2}{193}{cumv,cerblv}
\N{y3}{183}{y1,y2}
\N{y4}{172}{yiiv,y3}
\N{y5}{172}{epbv,mthv}
\N{y6}{153}{brwv,nrgv}
\N{hA}{135}{g15,g20}
\N{hB}{120}{lensrv,hA}
\N{hC}{140}{hblv,g21}
\N{hD}{130}{hC,p27}
\N{hE}{140}{b1,acbv2}
\N{hF}{140}{mov,w3}
\N{hG}{128}{hE,hF}
\N{hH}{118}{hD,hG}
\N{hI}{140}{r4,y4}
\N{hJ}{130}{hI,y5}
\N{hK}{120}{hJ,y6}
\N{hL}{108}{hH,hK}
\N{hM}{98}{hB,hL}
\N{hN}{80}{enplv,hM}
\N{d1}{247}{rdabv,pvlamlv8}
\N{d2}{232}{pvlamlv4,d1}
\N{d3}{217}{cdnsrv,d2}
\N{d4}{200}{prnssv,d3}
\N{d5}{182}{pdv,d4}
\N{a1}{327}{vpzv,besv}
\N{a2}{297}{hisv,a1}
\N{a3}{287}{a2,unnv}
\N{a4}{257}{oscv,a3}
\N{a5}{173}{ahev,a4}
\N{a6}{253}{uhv,casv}
\N{m1}{283}{flev,prav}
\N{m2}{297}{pichv,allv}
\N{m3}{288}{pirv,m2}
\N{m4}{275}{m1,m3}
\N{m5}{268}{m4,tmmv}
\N{m6}{300}{amav,junv}
\N{m7}{287}{sbav,m6}
\N{m8}{283}{xapv,latv}
\N{m9}{270}{m7,m8}
\N{m10}{245}{m5,m9}
\N{o1}{305}{okav,mrwv}
\N{o2}{272}{souv,o1}
\N{o3}{323}{gaiv,mpov}
\N{o4}{315}{luav,o3}
\N{o5}{303}{lasv,o4}
\N{o6}{307}{ippyv,ktlv}
\N{o7}{293}{o6,o5}
\N{o8}{285}{lijv,o7}
\N{o9}{278}{mrlv,o8}
\N{o10}{265}{o2,o9}
\N{o11}{298}{lnkv,rykv}
\N{o12}{268}{o11,lujv}
\N{o13}{255}{o10,o12}
\N{o14}{240}{alxv,o13}
\N{o15}{217}{m10,o14}
\N{o16}{140}{o15,hlrv}
\N{a7}{128}{a6,o16}
\N{a8}{115}{a5,a7}
\N{fa1}{223}{wlfav1,spav}
\N{fa2}{190}{wlfav2,fa1}
\N{a9}{100}{a8,fa2}
\N{n1}{205}{xsv,sxwsv1}
\N{n2}{363}{grhv,bjnv}
\N{n3}{323}{sbv,n2}
\N{n4}{348}{tctv1,pctnv}
\N{n5}{347}{burv,tamv}
\N{n6}{340}{n4,n5}
\N{n7}{328}{n6,hptv}
\N{n8}{287}{sulv,n7}
\N{n9}{312}{amv,sapv}
\N{n10}{307}{psv,erv}
\N{n11}{300}{n9,n10}
\N{n12}{317}{ktrv,chimv}
\N{n13}{307}{kasv,n12}
\N{n14}{305}{tagv,artsv}
\N{n15}{323}{kupev,cchfv}
\N{n16}{318}{n15,tfav}
\N{n17}{302}{n14,n16}
\N{n18}{283}{n13,n17}
\N{n19}{268}{n11,n18}
\N{n20}{258}{n8,n19}
\N{n21}{213}{n3,n20}
\N{n22}{185}{sysv,n21}
\N{n24}{157}{n1,rgrv}
\N{n25}{150}{n24,n22}
\N{H1}{60}{hN,d5}
\N{H2}{50}{H1,a9}
\N{H3}{60}{hbmv5,esbv}
\N{H4}{55}{H3,whmv2}
\N{H5}{40}{H2,H4}
\N{H6}{30}{H5,n25}
\N{H7}{20}{lepmv,H6}
\N{H8}{12}{tusv,H7}
\N{root}{4}{e9,H8}
\coordinate (rootstub) at (0,0 |- root);
\draw[br] (root) -- (rootstub);
% ---------------- support values
\foreach \nm/\v in {c2/0.99,c1/1,t3/0.99,t2/0.99,t1/1,pE/0.99,pG/1,pC/1,pB/0.99,pD/1,pK/0.99,pL/0.99,pJ/1,pH/0.99,pI/1,pM/0.99,pN/1,pO/1,pP/0.97,pQ/1,pR/0.99,pS/1,pT/1,pU/0.97,pV/0.99,pW/1,pX/0.99,pY/1,pZ/1,qA/1,qB/0.99,qC/0.99,qD/0.98,qE/1,qF/0.99,qG/0.99,qH/1,qI/1,sA/0.99,sB/0.9,fA/1,fB/1,fC/0.99,fD/0.99,fE/1,f1/1,f2/0.99,f3/0.97,f4/0.99,f5/1,f6/0.99,f7/1,f8/0.99,fG/0.97,fH/0.99,fI/1,fJ/1,fK/1,h1/0.97,h2/0.99,h3/1,h4/1,h5/0.99,ph1/0.99,ph2/1,ph3/0.97,ph4/1,ph5/0.99,ph6/0.99,ph7/1,ph8/0.98,ph9/1,ph10/1,ph11/1,ph12/0.98,ph13/1,ph14/0.99,ph15/0.99,ph16/1,ph17/0.99,ph18/0.97,ph19/1,ph20/1,ph21/0.99,ph22/0.99,ph23/1,ph24/0.98,ph25/0.56,
g1/0.99,g2/1,g3/0.99,g4/0.97,g5/0.99,g6/1,g7/1,g8/1,g9/0.99,g10/1,g11/1,g12/0.99,g13/0.97,g14/1,g16/1,g17/1,g18/0.99,g19/0.99,g21/1,g22/1,g23/1,g24/1,g25/1,g26/0.99,g27/0.9,g28/1,p1/0.99,p2/1,p4/1,p5/0.99,p6/0.9,p7/1,p8/0.97,p9/0.99,p10/0.98,p11/1,p12/1,p13/1,p14/0.99,p15/0.97,p16/0.98,p17/0.98,p18/0.99,p19/0.99,p20/0.9,p21/0.97,p22/0.99,p23/1,p24/1,p25/1,p26/0.99,p27/0.99,b1/1,w1/0.99,w2/0.99,r1/1,r2/1,r3/0.99,r4/1,y1/1,y2/0.99,y3/0.99,y4/1,y5/1,y6/0.9,d1/0.99,d2/0.97,d3/0.99,d4/0.99,d5/1,a1/0.99,a2/0.99,a3/1,a4/1,a5/1,a6/1,m1/0.99,m2/0.94,m3/0.99,m4/1,m5/0.97,m6/0.95,m7/1,m8/0.99,m9/1,m10/1,o1/1,o2/0.98,o3/0.99,o4/0.99,o5/1,o6/0.99,o7/0.97,o8/0.99,o9/0.96,o10/0.98,o11/1,o12/0.98,o13/0.99,o14/1,o15/1,fa1/0.99,fa2/1,n1/1,n2/1,n3/1,n4/0.99,n5/0.9,n6/0.9,n7/1,n8/1,n9/1,n10/1,n11/1,n12/0.58,n13/1,n14/0.99,n15/0.99,n16/1,n17/1,n18/0.97,n19/0.99,n20/1,n21/0.99,n22/0.98,n24/1}{\node[sup] (s\nm) at (\nm) {\v};}
% ---------------- dotted guides
\foreach \d in {cdpbv,wlcv,gcfsv,msmv,lbbv,kurv,cjav1,pvbv,wehv,brpv,sgiv2,whiv2,tblv,aptv,tusv,lepmv,enplv,nrgv,pdv,pvlamlv8,ahev,spav,hbmv5,whmv2,xsv,tfav}{\Dt{\d}}
% ---------------- family brackets
\newcommand\Fam[6]{%
  \draw[bkl] (#1 -| bx) -- (#2 -| bx);
  \node[#6,text=#4] (#5) at ($(#1 -| bx)!0.5!(#2 -| bx)+(3,0)$) {#3};
}
\Fam{cdpbv}{wlcv}{Cruliviridae}{blu}{fCru}{fam}
\Fam{gcfsv}{msmv}{Tospoviridae}{blu}{fTos}{fam}
\Fam{lbbv}{kurv}{Peribunyaviridae}{blu}{fPer}{fam}
\Fam{cjav1}{pvbv}{Fimoviridae}{blu}{fFim}{fam}
\Fam{wehv}{brpv}{Hantaviridae}{blu}{fHan}{fam}
\Fam{sgiv2}{whiv2}{Phasmaviridae}{blu}{fPha}{fam}
\Fam{tblv}{aptv}{Tulasviridae}{blu}{fTul}{famit}
\node[fam,text=ora] (fKon) at ($(tusv -| bx)+(3,0)$) {Konkoviridae};
\node[fam,text=ora] (fLei) at ($(lepmv -| bx)+(3,0)$) {Leishbuviridae};
\Fam{enplv}{nrgv}{Phenuiviridae}{ora}{fPhe}{famit}
\Fam{pdv}{pvlamlv8}{Discoviridae}{ora}{fDis}{fam}
\draw[bkl] (ahev -| bx) -- (spav -| bx);
\node[fam,text=ora] (fAre) at ($(okav -| bx)+(3,0)$) {Arenaviridae};
\node[famit,text=ora] (fMyp) at ($(hbmv5 -| bx)+(3,0)$) {Mypoviridae};
\node[famit,text=ora] (fWup) at ($(whmv2 -| bx)+(3,0)$) {Wupedeviridae};
\Fam{xsv}{tfav}{Nairoviridae}{ora}{fNai}{famit}
% ---------------- order labels
\node[ord,text=blu] (oEll) at (669,418) {Elliovirales};
\node[ord,text=ora] (oHar) at (669,1408) {Hareavirales};
\end{tikzpicture}
\end{document}
